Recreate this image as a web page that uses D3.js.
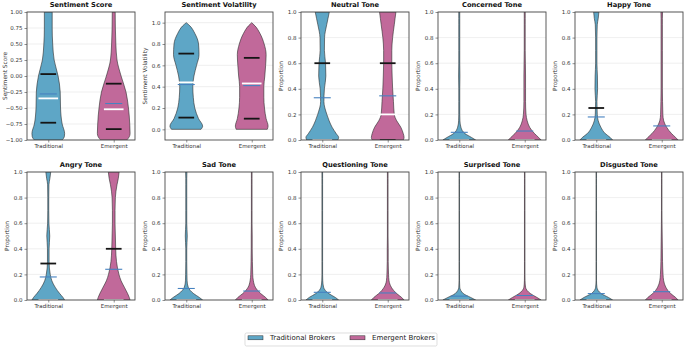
<!DOCTYPE html>
<html>
<head>
<meta charset="utf-8">
<script src="https://cdn.jsdelivr.net/npm/d3@7"></script>
<style>
  body { margin: 0; background: #fff; }
  svg { font-family: "DejaVu Sans", sans-serif; }
</style>
</head>
<body>
<div id="canvas"></div>
<script>
// DATA
const groups = ["Traditional", "Emergent"];
const legendLabels = ["Traditional Brokers", "Emergent Brokers"];
const titles = ["Sentiment Score", "Sentiment Volatility", "Neutral Tone", "Concerned Tone", "Happy Tone",
  "Angry Tone", "Sad Tone", "Questioning Tone", "Surprised Tone", "Disgusted Tone"];
const yLabels = ["Sentiment Score", "Sentiment Volatility", "Proportion", "Proportion", "Proportion",
  "Proportion", "Proportion", "Proportion", "Proportion", "Proportion"];

const scoreTicks = [-1, -0.75, -0.5, -0.25, 0, 0.25, 0.5, 0.75, 1];
const unitTicks = [0, 0.2, 0.4, 0.6, 0.8, 1];

// violin outlines: relative half-width at each level (1 = widest)
const scoreLevels = [-1, -0.95, -0.9, -0.75, -0.5, -0.25, 0, 0.25, 0.5, 0.75, 1];
const scoreTrad = [0.85, 0.98, 1.0, 0.85, 0.75, 0.73, 0.6, 0.36, 0.27, 0.24, 0.24];
const scoreEmer = [0.8, 0.95, 1.0, 0.98, 0.9, 0.75, 0.45, 0.2, 0.13, 0.1, 0.09];

const volLevels = [0, 0.03, 0.1, 0.2, 0.3, 0.4, 0.5, 0.6, 0.7, 0.8, 0.9, 0.97, 1];
const volTrad = [0.9, 1.0, 0.75, 0.52, 0.43, 0.4, 0.47, 0.63, 0.78, 0.75, 0.52, 0.22, 0];
const volEmer = [0.95, 1.0, 0.88, 0.78, 0.74, 0.74, 0.8, 0.85, 0.88, 0.76, 0.5, 0.2, 0];

const propLevels = [0, 0.02, 0.05, 0.1, 0.15, 0.2, 0.3, 0.4, 0.5, 0.6, 0.7, 0.8, 0.9, 0.95, 1];
const neutralTrad = [0.95, 1.0, 0.85, 0.6, 0.42, 0.28, 0.1, 0.13, 0.22, 0.2, 0.13, 0.14, 0.27, 0.35, 0.43];
const neutralEmer = [0.95, 1.0, 0.95, 0.8, 0.55, 0.4, 0.35, 0.3, 0.27, 0.25, 0.25, 0.3, 0.4, 0.45, 0.5];
const concernedTrad = [1.0, 0.75, 0.35, 0.1, 0.04, 0.03, 0.03, 0.03, 0.04, 0.03, 0.03, 0.03, 0.03, 0.03, 0.03];
const concernedEmer = [1.0, 0.85, 0.6, 0.3, 0.15, 0.08, 0.05, 0.05, 0.05, 0.04, 0.03, 0.03, 0.03, 0.03, 0.03];
const happyTrad = [1.0, 0.85, 0.55, 0.28, 0.12, 0.06, 0.04, 0.08, 0.07, 0.04, 0.04, 0.04, 0.06, 0.12, 0.16];
const happyEmer = [1.0, 0.85, 0.6, 0.3, 0.12, 0.07, 0.05, 0.04, 0.04, 0.04, 0.04, 0.04, 0.04, 0.04, 0.05];
const angryTrad = [1.0, 0.9, 0.7, 0.42, 0.22, 0.12, 0.05, 0.05, 0.09, 0.04, 0.03, 0.03, 0.04, 0.1, 0.15];
const angryEmer = [1.0, 0.95, 0.85, 0.65, 0.45, 0.32, 0.17, 0.12, 0.1, 0.08, 0.08, 0.1, 0.2, 0.28, 0.33];
const sadTrad = [1.0, 0.8, 0.45, 0.12, 0.05, 0.04, 0.03, 0.03, 0.06, 0.03, 0.03, 0.03, 0.03, 0.03, 0.04];
const sadEmer = [1.0, 0.85, 0.55, 0.22, 0.1, 0.06, 0.04, 0.03, 0.03, 0.02, 0.02, 0.02, 0.02, 0.02, 0.02];
const questionTrad = [1.0, 0.8, 0.4, 0.08, 0.03, 0.02, 0.02, 0.02, 0.02, 0.02, 0.02, 0.02, 0.02, 0.02, 0.02];
const questionEmer = [1.0, 0.85, 0.55, 0.22, 0.08, 0.05, 0.03, 0.03, 0.02, 0.02, 0.02, 0.02, 0.02, 0.02, 0.02];
const surprisedTrad = [1.0, 0.7, 0.25, 0.03, 0.015, 0.015, 0.015, 0.015, 0.015, 0.015, 0.015, 0.015, 0.015, 0.015, 0.015];
const surprisedEmer = [1.0, 0.75, 0.35, 0.05, 0.02, 0.015, 0.015, 0.015, 0.015, 0.015, 0.015, 0.015, 0.015, 0.015, 0.015];
const disgustedTrad = [1.0, 0.75, 0.3, 0.04, 0.015, 0.015, 0.015, 0.015, 0.015, 0.015, 0.015, 0.015, 0.015, 0.015, 0.015];
const disgustedEmer = [1.0, 0.85, 0.55, 0.25, 0.12, 0.08, 0.05, 0.04, 0.03, 0.02, 0.015, 0.015, 0.015, 0.015, 0.015];

// summary lines per group: [q1, median, q3, mean]
const scoreStats = [[-0.73, -0.35, 0.03, -0.28], [-0.83, -0.52, -0.12, -0.43]];
const volStats = [[0.11, 0.44, 0.71, 0.42], [0.10, 0.43, 0.67, 0.41]];
const neutralStats = [[0, 0, 0.6, 0.33], [0, 0.2, 0.6, 0.345]];
const concernedStats = [[0, 0, 0, 0.06], [0, 0, 0, 0.07]];
const happyStats = [[0, 0, 0.25, 0.18], [0, 0, 0, 0.11]];
const angryStats = [[0, 0, 0.285, 0.18], [0, 0, 0.4, 0.24]];
const sadStats = [[0, 0, 0, 0.09], [0, 0, 0, 0.07]];
const questionStats = [[0, 0, 0, 0.06], [0, 0, 0, 0.055]];
const surprisedStats = [[0, 0, 0, 0.03], [0, 0, 0, 0.035]];
const disgustedStats = [[0, 0, 0, 0.05], [0, 0, 0, 0.065]];

const panels = [
  { levels: scoreLevels, shapes: [scoreTrad, scoreEmer], stats: scoreStats, domain: [-1, 1], ticks: scoreTicks, fmt: ".2f" },
  { levels: volLevels, shapes: [volTrad, volEmer], stats: volStats, domain: [-0.1, 1.1], ticks: unitTicks, fmt: ".1f" },
  { levels: propLevels, shapes: [neutralTrad, neutralEmer], stats: neutralStats },
  { levels: propLevels, shapes: [concernedTrad, concernedEmer], stats: concernedStats },
  { levels: propLevels, shapes: [happyTrad, happyEmer], stats: happyStats },
  { levels: propLevels, shapes: [angryTrad, angryEmer], stats: angryStats },
  { levels: propLevels, shapes: [sadTrad, sadEmer], stats: sadStats },
  { levels: propLevels, shapes: [questionTrad, questionEmer], stats: questionStats },
  { levels: propLevels, shapes: [surprisedTrad, surprisedEmer], stats: surprisedStats },
  { levels: propLevels, shapes: [disgustedTrad, disgustedEmer], stats: disgustedStats }
].map((p, i) => Object.assign({ domain: [0, 1], ticks: unitTicks, fmt: ".1f" }, p, { title: titles[i], ylabel: yLabels[i] }));

// STYLE
const colors = ["#5ea6c6", "#c1699a"];
const width = 685;
const height = 347;
const panelW = 108;
const lefts = [27, 165, 301, 438, 575];
const rows = [{ top: 12, bottom: 140 }, { top: 172, bottom: 300 }];
const halfWidth = 0.25;

const svg = d3.select("#canvas")
  .append("svg")
  .attr("width", width)
  .attr("height", height);

panels.forEach((p, i) => {
  const left = lefts[i % 5];
  const row = rows[Math.floor(i / 5)];

  const x = d3.scaleLinear().domain([0.675, 2.325]).range([left, left + panelW]);
  const y = d3.scaleLinear().domain(p.domain).range([row.bottom, row.top]);
  const g = svg.append("g");

  // GRID
  g.selectAll(".grid")
    .data(p.ticks)
    .join("line")
    .attr("x1", left).attr("x2", left + panelW)
    .attr("y1", d => y(d)).attr("y2", d => y(d))
    .attr("stroke", "#e4e4e4")
    .attr("stroke-width", 0.6);

  const clipId = "clip" + i;
  g.append("clipPath").attr("id", clipId)
    .append("rect")
    .attr("x", left).attr("y", row.top)
    .attr("width", panelW).attr("height", row.bottom - row.top);

  const plot = g.append("g").attr("clip-path", `url(#${clipId})`);

  // VIOLINS
  p.shapes.forEach((shape, k) => {
    const pos = k + 1;
    const pts = p.levels.map((v, j) => [v, shape[j]]).sort((a, b) => y(a[0]) - y(b[0]));
    const area = d3.area()
      .y(d => y(d[0]))
      .x0(d => x(pos - halfWidth * d[1]))
      .x1(d => x(pos + halfWidth * d[1]))
      .curve(d3.curveMonotoneY);
    plot.append("path")
      .datum(pts)
      .attr("d", area)
      .attr("fill", colors[k])
      .attr("stroke", "#2b2b2b")
      .attr("stroke-width", 0.6);
  });

  // SUMMARY LINES
  p.stats.forEach((s, k) => {
    const pos = k + 1;
    const seg = (v, w, color, lw) => plot.append("line")
      .attr("x1", x(pos - w)).attr("x2", x(pos + w))
      .attr("y1", y(v)).attr("y2", y(v))
      .attr("stroke", color)
      .attr("stroke-width", lw);
    seg(s[0], 0.12, "#151515", 1.8);
    seg(s[2], 0.12, "#151515", 1.8);
    seg(s[1], 0.15, "#ffffff", 1.8);
    seg(s[3], 0.13, "#4682c0", 1.1);
  });

  // AXES
  const fmt = d3.format(p.fmt);
  const yAxis = g.append("g")
    .attr("transform", `translate(${left},0)`)
    .call(d3.axisLeft(y).tickValues(p.ticks).tickSize(2.5).tickPadding(2)
      .tickFormat(d => fmt(d).replace("-", "\u2212")));
  const xAxis = g.append("g")
    .attr("transform", `translate(0,${row.bottom})`)
    .call(d3.axisBottom(x).tickValues([1, 2]).tickSize(2.5).tickPadding(2)
      .tickFormat((d, j) => groups[j]));
  [yAxis, xAxis].forEach(a => {
    a.select(".domain").remove();
    a.selectAll("line").attr("stroke", "#444").attr("stroke-width", 0.6);
    a.selectAll("text").attr("font-size", 5.5).attr("fill", "#333")
      .attr("font-family", "DejaVu Sans, sans-serif");
  });

  // FRAME
  g.append("rect")
    .attr("x", left).attr("y", row.top)
    .attr("width", panelW).attr("height", row.bottom - row.top)
    .attr("fill", "none")
    .attr("stroke", "#4a4a4a")
    .attr("stroke-width", 0.9);

  // TITLE + Y LABEL
  g.append("text")
    .attr("x", left + panelW / 2).attr("y", row.top - 5)
    .attr("text-anchor", "middle")
    .attr("font-size", 6.7)
    .attr("font-weight", "bold")
    .attr("fill", "#111")
    .text(p.title);

  const labelX = i === 0 ? 5 : left - 20;
  g.append("text")
    .attr("transform", `translate(${labelX},${(row.top + row.bottom) / 2}) rotate(-90)`)
    .attr("text-anchor", "middle")
    .attr("dy", "0.35em")
    .attr("font-size", 5.8)
    .attr("fill", "#333")
    .text(p.ylabel);
});

// LEGEND
const legend = svg.append("g");
legend.append("rect")
  .attr("x", 245).attr("y", 333)
  .attr("width", 192).attr("height", 13)
  .attr("rx", 1.5)
  .attr("fill", "#fff")
  .attr("stroke", "#d0d0d0")
  .attr("stroke-width", 0.7);

const items = legend.selectAll(".item")
  .data(legendLabels)
  .join("g")
  .attr("transform", (d, j) => `translate(${[248, 350][j]},0)`);
items.append("rect")
  .attr("x", 0).attr("y", 335.8)
  .attr("width", 15).attr("height", 4)
  .attr("fill", (d, j) => colors[j])
  .attr("stroke", "#2b2b2b")
  .attr("stroke-width", 0.5);
items.append("text")
  .attr("x", 22).attr("y", 338)
  .attr("dy", "0.35em")
  .attr("font-size", 7)
  .attr("fill", "#222")
  .text(d => d);
</script>
</body>
</html>
